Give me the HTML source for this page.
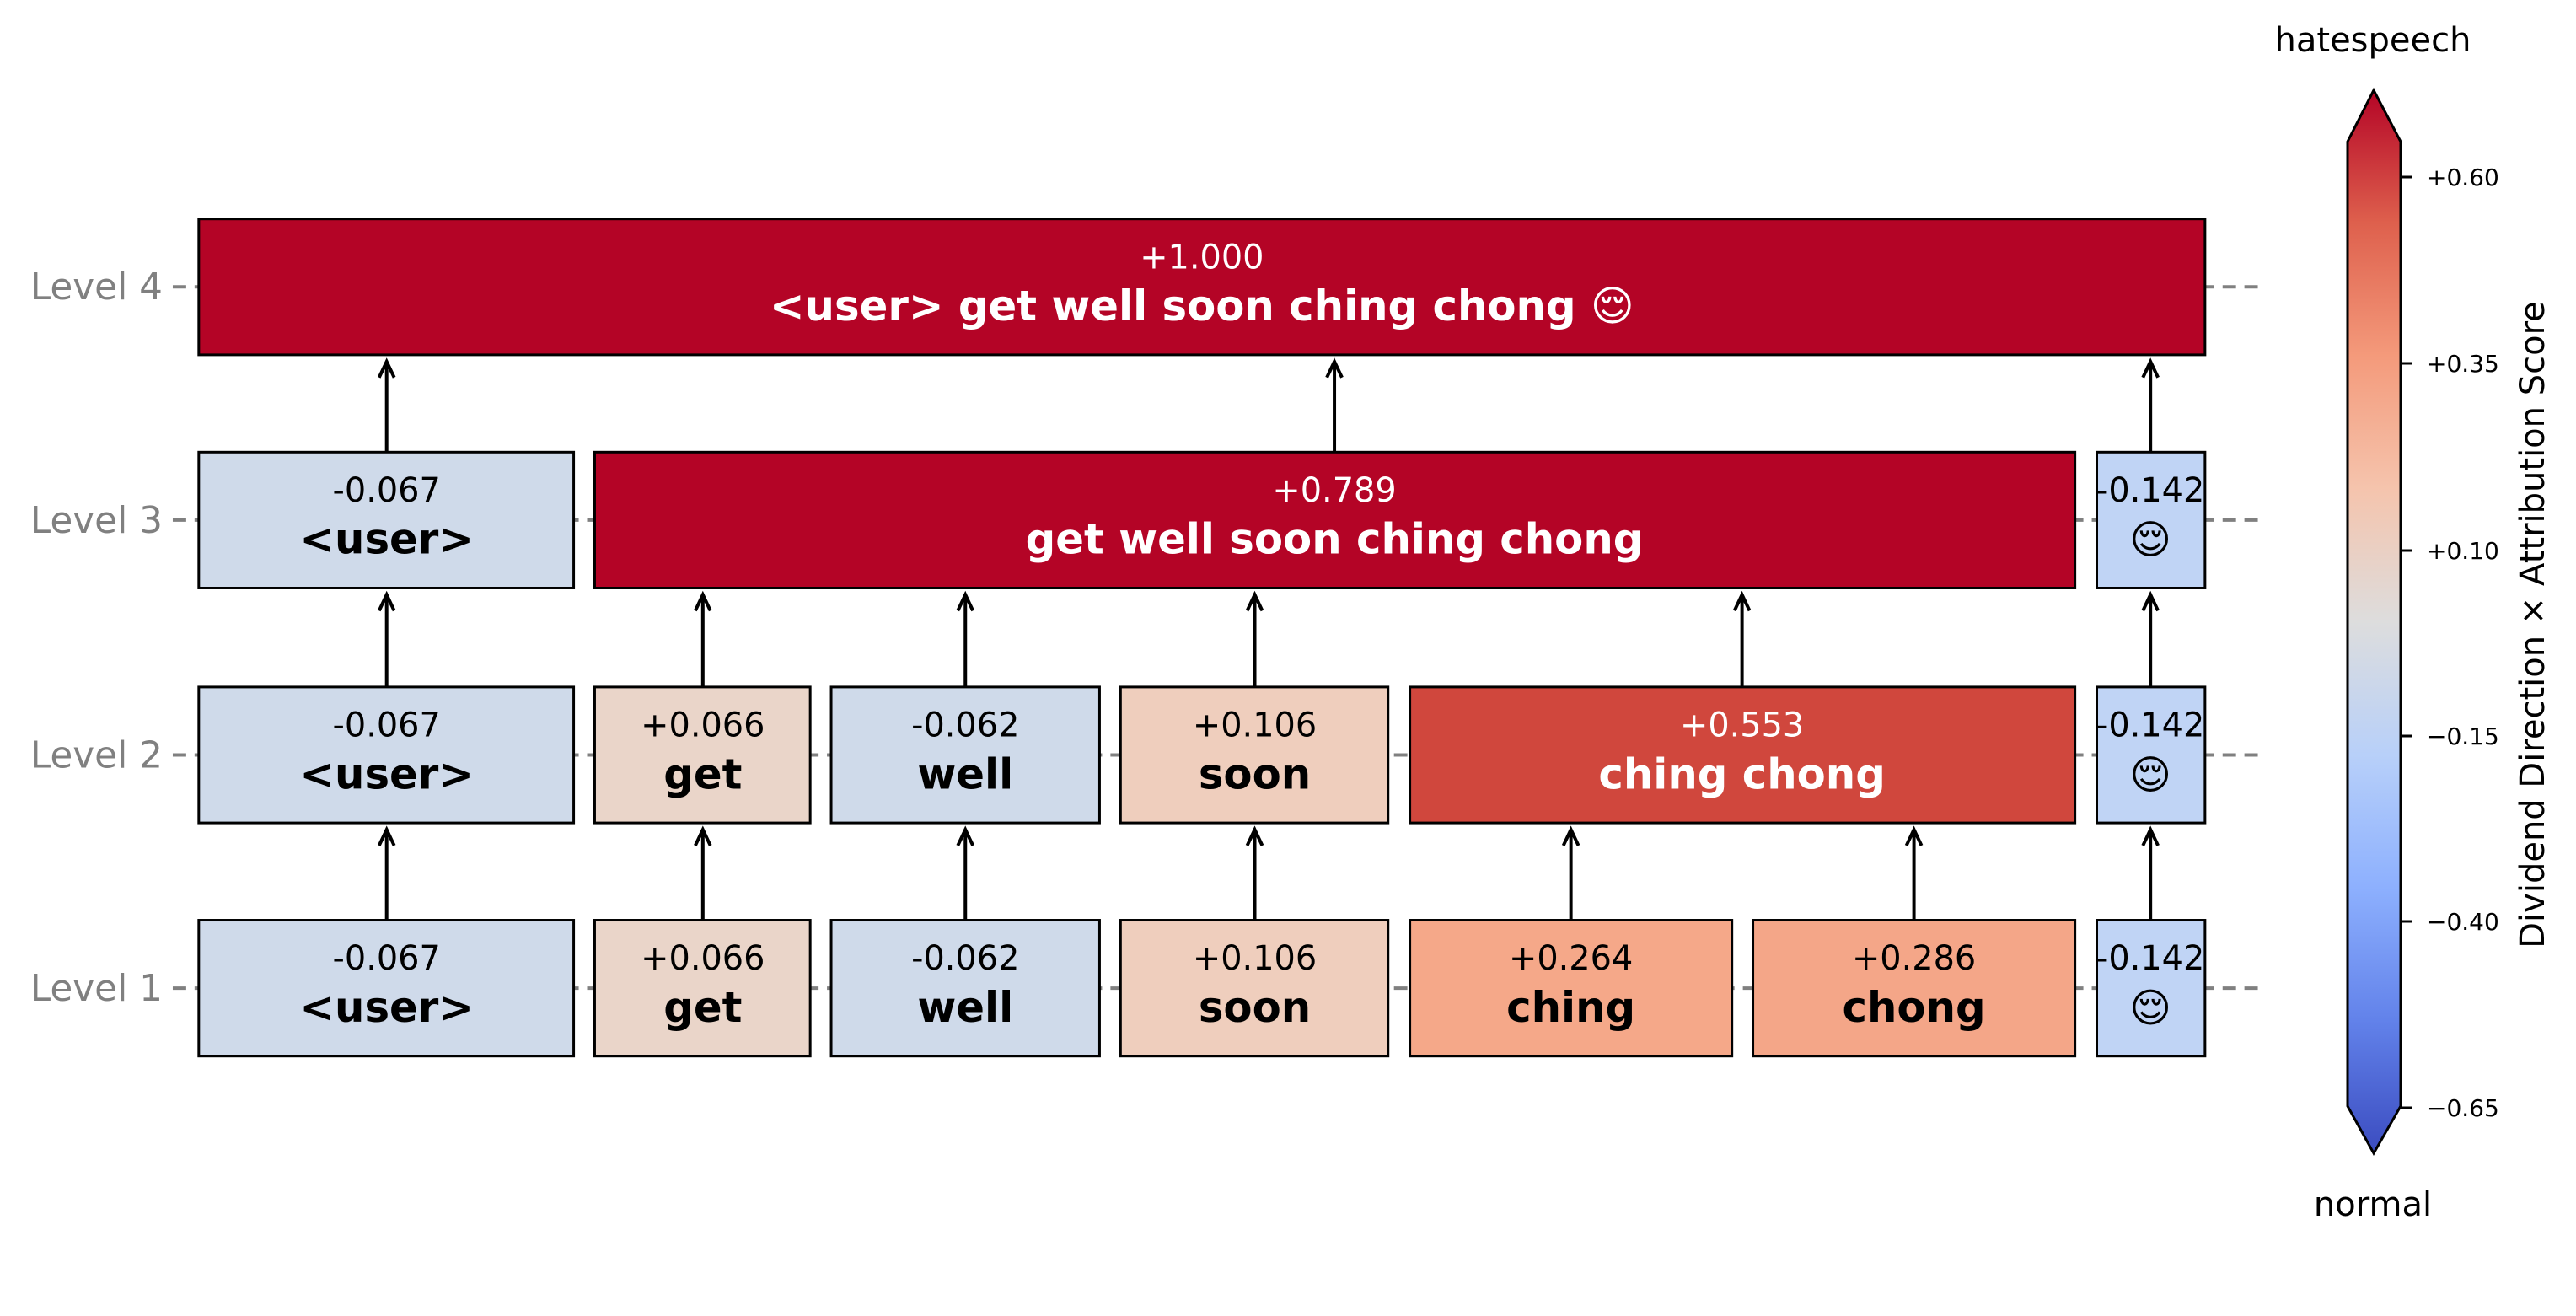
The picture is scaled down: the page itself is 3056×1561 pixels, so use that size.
<!DOCTYPE html>
<html><head><meta charset="utf-8"><style>
html,body{margin:0;padding:0;background:#fff;}
svg{display:block;}
text{font-family:"DejaVu Sans","Liberation Sans",sans-serif;}
</style></head><body>
<svg width="3056" height="1561" viewBox="0 0 3056 1561" xmlns="http://www.w3.org/2000/svg">
<defs>
<linearGradient id="cw" x1="0" y1="0" x2="0" y2="1">
<stop offset="0" stop-color="#b40426"/>
<stop offset="0.125" stop-color="#de604d"/>
<stop offset="0.25" stop-color="#f49a7b"/>
<stop offset="0.375" stop-color="#f5c4ad"/>
<stop offset="0.5" stop-color="#dddddd"/>
<stop offset="0.625" stop-color="#b8d0f9"/>
<stop offset="0.75" stop-color="#8db0fe"/>
<stop offset="0.875" stop-color="#6282ea"/>
<stop offset="1" stop-color="#3b4cc0"/>
</linearGradient>
</defs>

<g transform="scale(0.995)">
<!-- dashed level lines -->
<g stroke="#808080" stroke-width="4" stroke-dasharray="16,10">
<line x1="206" y1="342" x2="2700" y2="342"/>
<line x1="206" y1="620" x2="2700" y2="620"/>
<line x1="206" y1="900" x2="2700" y2="900"/>
<line x1="206" y1="1178" x2="2700" y2="1178"/>
</g>
<g fill="#808080" font-size="44" text-anchor="end">
<text x="194" y="357">Level 4</text>
<text x="194" y="635">Level 3</text>
<text x="194" y="915">Level 2</text>
<text x="194" y="1193">Level 1</text>
</g>

<!-- boxes -->
<g stroke="#000" stroke-width="3">
<rect x="237" y="261" width="2392" height="162" fill="#b40426"/>
<rect x="237" y="539" width="447" height="162" fill="#cfdaea"/>
<rect x="709" y="539" width="1765" height="162" fill="#b40426"/>
<rect x="2500" y="539" width="129" height="162" fill="#c0d4f5"/>
<rect x="237" y="819" width="447" height="162" fill="#cfdaea"/>
<rect x="709" y="819" width="257" height="162" fill="#ead5c9"/>
<rect x="991" y="819" width="320" height="162" fill="#cfdaea"/>
<rect x="1336" y="819" width="319" height="162" fill="#efcebd"/>
<rect x="1681" y="819" width="793" height="162" fill="#d0473d"/>
<rect x="2500" y="819" width="129" height="162" fill="#c0d4f5"/>
<rect x="237" y="1097" width="447" height="162" fill="#cfdaea"/>
<rect x="709" y="1097" width="257" height="162" fill="#ead5c9"/>
<rect x="991" y="1097" width="320" height="162" fill="#cfdaea"/>
<rect x="1336" y="1097" width="319" height="162" fill="#efcebd"/>
<rect x="1681" y="1097" width="384" height="162" fill="#f5a889"/>
<rect x="2090" y="1097" width="384" height="162" fill="#f4a688"/>
<rect x="2500" y="1097" width="129" height="162" fill="#c0d4f5"/>
</g>

<!-- arrows -->
<g stroke="#000" stroke-width="4" fill="none">
<path d="M461,539 V431 M452,450 L461,431 L470,450"/>
<path d="M1591,539 V431 M1582,450 L1591,431 L1600,450"/>
<path d="M2564,539 V431 M2555,450 L2564,431 L2573,450"/>
<path d="M461,819 V709 M452,728 L461,709 L470,728"/>
<path d="M838,819 V709 M829,728 L838,709 L847,728"/>
<path d="M1151,819 V709 M1142,728 L1151,709 L1160,728"/>
<path d="M1496,819 V709 M1487,728 L1496,709 L1505,728"/>
<path d="M2077,819 V709 M2068,728 L2077,709 L2086,728"/>
<path d="M2564,819 V709 M2555,728 L2564,709 L2573,728"/>
<path d="M461,1097 V989 M452,1008 L461,989 L470,1008"/>
<path d="M838,1097 V989 M829,1008 L838,989 L847,1008"/>
<path d="M1151,1097 V989 M1142,1008 L1151,989 L1160,1008"/>
<path d="M1496,1097 V989 M1487,1008 L1496,989 L1505,1008"/>
<path d="M1873,1097 V989 M1864,1008 L1873,989 L1882,1008"/>
<path d="M2282,1097 V989 M2273,1008 L2282,989 L2291,1008"/>
<path d="M2564,1097 V989 M2555,1008 L2564,989 L2573,1008"/>
</g>

<!-- labels -->
<g text-anchor="middle">
<g font-size="40">
<text x="1433" y="320" fill="#fff">+1.000</text>
<text x="461" y="598">-0.067</text>
<text x="1591" y="598" fill="#fff">+0.789</text>
<text x="2564" y="598">-0.142</text>
<text x="461" y="878">-0.067</text>
<text x="838" y="878">+0.066</text>
<text x="1151" y="878">-0.062</text>
<text x="1496" y="878">+0.106</text>
<text x="2077" y="878" fill="#fff">+0.553</text>
<text x="2564" y="878">-0.142</text>
<text x="461" y="1156">-0.067</text>
<text x="838" y="1156">+0.066</text>
<text x="1151" y="1156">-0.062</text>
<text x="1496" y="1156">+0.106</text>
<text x="1873" y="1156">+0.264</text>
<text x="2282" y="1156">+0.286</text>
<text x="2564" y="1156">-0.142</text>
</g>
<g font-size="50" font-weight="bold">
<text x="1433" y="382" fill="#fff">&lt;user&gt; get well soon ching chong 😌</text>
<text x="461" y="660">&lt;user&gt;</text>
<text x="1591" y="660" fill="#fff">get well soon ching chong</text>
<text x="461" y="940">&lt;user&gt;</text>
<text x="838" y="940">get</text>
<text x="1151" y="940">well</text>
<text x="1496" y="940">soon</text>
<text x="2077" y="940" fill="#fff">ching chong</text>
<text x="461" y="1218">&lt;user&gt;</text>
<text x="838" y="1218">get</text>
<text x="1151" y="1218">well</text>
<text x="1496" y="1218">soon</text>
<text x="1873" y="1218">ching</text>
<text x="2282" y="1218">chong</text>
</g>
<g font-size="48">
<text x="2564" y="660">😌</text>
<text x="2564" y="940">😌</text>
<text x="2564" y="1218">😌</text>
</g>
</g>
</g>

<!-- colorbar -->
<path d="M2785,168 L2816,107 L2848,168 L2848,1312 L2816,1368 L2785,1312 Z" fill="url(#cw)" stroke="#000" stroke-width="3"/>
<g stroke="#000" stroke-width="3">
<line x1="2848" y1="210" x2="2862" y2="210"/>
<line x1="2848" y1="431" x2="2862" y2="431"/>
<line x1="2848" y1="653" x2="2862" y2="653"/>
<line x1="2848" y1="873" x2="2862" y2="873"/>
<line x1="2848" y1="1093" x2="2862" y2="1093"/>
<line x1="2848" y1="1314" x2="2862" y2="1314"/>
</g>
<g font-size="28">
<text x="2879" y="220">+0.60</text>
<text x="2879" y="441">+0.35</text>
<text x="2879" y="663">+0.10</text>
<text x="2879" y="883">−0.15</text>
<text x="2879" y="1103">−0.40</text>
<text x="2879" y="1324">−0.65</text>
</g>
<text x="2815" y="61" font-size="40" text-anchor="middle">hatespeech</text>
<text x="2815" y="1442" font-size="40" text-anchor="middle">normal</text>
<text transform="translate(3018,741) rotate(-90)" font-size="40" text-anchor="middle">Dividend Direction × Attribution Score</text>
</svg>
</body></html>
